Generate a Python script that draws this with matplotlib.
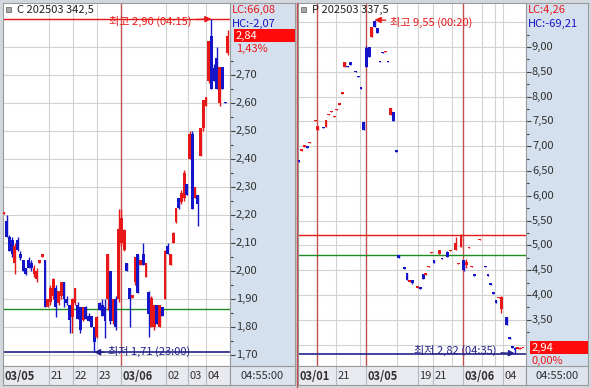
import matplotlib
matplotlib.use("Agg")
import matplotlib.pyplot as plt
from matplotlib.patches import Rectangle
from matplotlib.lines import Line2D

plt.rcParams['font.family'] = ['Noto Sans CJK KR', 'DejaVu Sans']

W, H = 591, 388

RED = '#e81818'
BLUE = '#1414c8'
NAVY = '#22228a'
GRID = '#d2d2d2'
DAYLINE = '#c05050'
GREEN = '#1f8a1f'
PANEL = '#d5e0ee'
BAR_BG = '#e8eaf0'
EDGE = '#9a9a9a'

# ---- C 202503 342.5 (5 min candles) ----
c_open = [2.205, 2.18, 2.12, 2.11, 2.03, 2.11, 2.06, 2.04, 2.01, 2.04,
          2.03, 1.99, 1.97, 2.03, 2.05, 2.04, 1.87, 1.89, 1.91, 1.94,
          1.885, 1.91, 1.96, 1.90, 1.88, 1.835, 1.885, 1.88, 1.87, 1.825,
          1.87, 1.84, 1.84, 1.80, 1.765, 1.885, 1.88, 1.87, 1.90, 2.00,
          1.82, 1.90, 1.90, 2.10, 2.075, 2.03, 1.94, 1.905, 1.96, 2.06,
          2.02, 2.06, 1.98, 1.925, 1.80, 1.80, 1.88, 1.80, 1.87, 1.90,
          2.09, 2.02, 2.10, 2.175, 2.26, 2.245, 2.26, 2.31, 2.40, 2.49,
          2.26, 2.27, 2.41, 2.51, 2.59, 2.68, 2.84, 2.725, 2.76, 2.60,
          2.73, 2.605, 2.78]
c_high = [2.21, 2.20, 2.13, 2.12, 2.10, 2.12, 2.07, 2.04, 2.01, 2.05,
          2.04, 2.02, 2.01, 2.04, 2.06, 2.04, 1.90, 1.95, 1.975, 1.95,
          1.93, 1.96, 1.96, 1.91, 1.88, 1.905, 1.94, 1.89, 1.87, 1.87,
          1.875, 1.85, 1.84, 1.80, 1.84, 1.89, 1.90, 1.90, 2.06, 2.00,
          1.90, 1.91, 2.22, 2.22, 2.15, 2.03, 1.94, 1.915, 2.05, 2.06,
          2.04, 2.10, 2.03, 1.93, 1.91, 1.88, 1.88, 1.88, 1.87, 2.075,
          2.10, 2.06, 2.14, 2.225, 2.26, 2.29, 2.36, 2.31, 2.50, 2.50,
          2.30, 2.27, 2.51, 2.61, 2.62, 2.82, 2.90, 2.74, 2.80, 2.73,
          2.73, 2.605, 2.86]
c_low = [2.205, 2.12, 2.07, 2.05, 1.99, 2.07, 2.04, 2.00, 1.985, 2.01,
         2.00, 1.98, 1.96, 2.03, 2.05, 1.87, 1.87, 1.88, 1.90, 1.835,
         1.88, 1.90, 1.87, 1.88, 1.78, 1.78, 1.88, 1.83, 1.78, 1.82,
         1.83, 1.82, 1.80, 1.71, 1.76, 1.86, 1.84, 1.76, 1.86, 1.81,
         1.81, 1.79, 1.89, 2.09, 2.07, 2.00, 1.80, 1.905, 1.95, 1.92,
         2.02, 2.02, 1.98, 1.765, 1.80, 1.79, 1.81, 1.80, 1.84, 1.90,
         2.06, 2.02, 2.10, 2.17, 2.22, 2.24, 2.25, 2.27, 2.40, 2.22,
         2.26, 2.16, 2.41, 2.50, 2.59, 2.67, 2.65, 2.68, 2.65, 2.59,
         2.65, 2.60, 2.77]
c_close = [2.21, 2.12, 2.07, 2.06, 2.09, 2.075, 2.045, 2.00, 1.99, 2.01,
           2.01, 2.01, 2.00, 2.04, 2.06, 1.87, 1.90, 1.94, 1.97, 1.87,
           1.93, 1.96, 1.90, 1.885, 1.825, 1.90, 1.94, 1.83, 1.79, 1.87,
           1.83, 1.82, 1.80, 1.745, 1.835, 1.86, 1.84, 1.82, 2.06, 1.82,
           1.90, 1.80, 2.15, 2.19, 2.145, 2.00, 1.90, 1.915, 2.05, 1.92,
           2.04, 2.02, 2.03, 1.845, 1.905, 1.88, 1.81, 1.88, 1.84, 2.07,
           2.06, 2.06, 2.135, 2.225, 2.225, 2.28, 2.35, 2.27, 2.49, 2.22,
           2.30, 2.24, 2.51, 2.61, 2.62, 2.82, 2.65, 2.68, 2.65, 2.73,
           2.65, 2.60, 2.84]
c_grid = [16.5, 25.3, 34.1, 59.3, 67.4, 74.0]
c_days = [42.9]
c_date_pos = [-0.3, 16.5, 25.3, 34.1, 42.9, 59.3, 67.4, 74.0]
c_date_lab = ['03/05', '21', '22', '23', '03/06', '02', '03', '04']
c_ticks = [1.70, 1.80, 1.90, 2.00, 2.10, 2.20, 2.30, 2.40, 2.50, 2.60, 2.70]
c_hlines = [(2.90, RED), (1.865, GREEN)]
c_info = ('C 202503 342,5', 'LC:66,08', 'HC:-2,07', '2,84', '1,43%')
c_hi_lab = '최고 2,90 (04:15)'
c_lo_lab = '최저 1,71 (23:00)'

# ---- P 202503 337.5 (5 min slots, thin trading) ----
p_slot = [0, 1, 2, 3, 4, 6, 7, 9, 10, 11,
          12, 13, 14, 15, 16, 17, 18, 19, 21, 22,
          23, 24, 25, 26, 27, 28, 29, 30, 31, 32,
          33, 34, 35, 36, 37, 39, 40, 41, 42, 44,
          45, 46, 47, 48, 49, 50, 52, 53, 55, 56,
          58, 59, 60, 61, 62, 63, 64, 65, 67, 69,
          70, 71, 72, 73, 74, 75, 77, 78, 79, 80,
          81, 82, 83]
p_open = [6.71, 6.91, 6.99, 6.99, 7.07, 7.50, 7.33, 7.38, 7.39, 7.62,
          7.68, 7.58, 7.72, 7.84, 8.06, 8.60, 8.61, 8.70, 8.51, 8.41,
          8.18, 7.49, 8.98, 9.00, 9.20, 9.52, 9.38, 8.71, 8.89, 8.89,
          8.71, 7.62, 7.68, 6.91, 4.80, 4.55, 4.44, 4.27, 4.30, 4.15,
          4.15, 4.43, 4.41, 4.57, 4.84, 4.70, 4.83, 4.74, 4.87, 4.89,
          4.91, 4.63, 4.97, 4.70, 4.60, 4.94, 4.57, 4.41, 5.10, 4.59,
          4.41, 4.23, 4.05, 3.90, 3.94, 3.72, 3.56, 3.16, 2.98, 2.94,
          2.92, 2.91, 2.93]
p_high = [6.71, 6.93, 7.01, 6.99, 7.09, 7.52, 7.40, 7.38, 7.53, 7.64,
          7.70, 7.60, 7.74, 7.86, 8.08, 8.70, 8.61, 8.70, 8.51, 8.41,
          8.18, 7.49, 9.02, 9.00, 9.40, 9.55, 9.38, 8.71, 8.89, 8.91,
          8.71, 7.77, 7.68, 6.91, 4.81, 4.55, 4.44, 4.31, 4.30, 4.17,
          4.15, 4.43, 4.43, 4.59, 4.86, 4.70, 4.91, 4.74, 4.88, 4.91,
          5.17, 4.65, 5.22, 4.70, 4.72, 4.96, 4.59, 4.41, 5.12, 4.59,
          4.41, 4.23, 4.05, 3.90, 3.96, 3.97, 3.56, 3.16, 2.98, 2.95,
          2.94, 2.95, 2.94]
p_low = [6.69, 6.91, 6.99, 6.97, 7.07, 7.50, 7.33, 7.36, 7.39, 7.62,
         7.68, 7.58, 7.72, 7.84, 8.06, 8.60, 8.59, 8.64, 8.49, 8.39,
         8.16, 7.33, 8.60, 8.80, 9.20, 9.40, 9.28, 8.69, 8.87, 8.89,
         8.69, 7.62, 7.50, 6.89, 4.75, 4.53, 4.30, 4.27, 4.22, 4.15,
         4.13, 4.32, 4.41, 4.57, 4.84, 4.64, 4.83, 4.72, 4.77, 4.89,
         4.91, 4.63, 4.97, 4.48, 4.54, 4.94, 4.57, 4.39, 5.10, 4.57,
         4.39, 4.21, 4.02, 3.84, 3.94, 3.64, 3.40, 3.12, 2.94, 2.82,
         2.92, 2.91, 2.93]
p_close = [6.69, 6.93, 7.01, 6.97, 7.09, 7.52, 7.40, 7.36, 7.53, 7.64,
           7.70, 7.60, 7.74, 7.86, 8.08, 8.70, 8.59, 8.64, 8.49, 8.39,
           8.16, 7.33, 8.60, 8.80, 9.40, 9.40, 9.28, 8.69, 8.87, 8.91,
           8.69, 7.77, 7.50, 6.89, 4.75, 4.53, 4.30, 4.31, 4.24, 4.17,
           4.13, 4.32, 4.43, 4.59, 4.86, 4.64, 4.91, 4.72, 4.77, 4.91,
           5.05, 4.65, 5.21, 4.50, 4.66, 4.96, 4.59, 4.39, 5.12, 4.57,
           4.39, 4.21, 4.02, 3.84, 3.96, 3.96, 3.40, 3.12, 2.94, 2.90,
           2.94, 2.94, 2.94]
p_grid = [13.7, 22.6, 36.3, 44.1, 49.6, 56.7, 67.8, 72.6, 75.6]
p_days = [6.7, 24.8, 60.7]
p_date_pos = [-0.3, 13.7, 24.8, 44.1, 49.6, 60.7, 75.6]
p_date_lab = ['03/01', '21', '03/05', '19', '21', '03/06', '04']
p_ticks = [3.50, 4.00, 4.50, 5.00, 5.50, 6.00, 6.50, 7.00, 7.50, 8.00, 8.50, 9.00]
p_hlines = [(5.21, RED), (4.80, GREEN)]
p_info = ('P 202503 337,5', 'LC:4,26', 'HC:-69,21', '2,94', '0,00%')
p_hi_lab = '최고 9,55 (00:20)'
p_lo_lab = '최저 2,82 (04:35)'


def px_axes(fig, x0, y0, x1, y1):
    return fig.add_axes([x0 / W, 1 - y1 / H, (x1 - x0) / W, (y1 - y0) / H])


def fmt(v):
    return f"{v:.2f}".replace('.', ',')


def clean(ax, color):
    ax.set_facecolor(color)
    ax.set_xticks([])
    ax.set_yticks([])
    for s in ax.spines.values():
        s.set_color(EDGE)
        s.set_linewidth(0.8)


def panel(fig, x0, x1, xp, xs, o, h, l, c, xlim, ylim, ystep, grid, days,
          date_pos, date_lab, ticks, hlines, info, hi_lab, lo_lab, hi_off, lo_off):
    top, bot = 3, 366
    ax = px_axes(fig, x0, top, x1, bot)
    clean(ax, 'white')
    ax.set_xlim(*xlim)
    ax.set_ylim(*ylim)
    per_px = (ylim[1] - ylim[0]) / (bot - top)

    # grid
    v = ticks[0] - ystep
    while v < ylim[1]:
        ax.axhline(v, color=GRID, lw=0.8, zorder=1)
        v += ystep
    for g in grid:
        ax.axvline(g, color=GRID, lw=0.8, zorder=1)
    for d in days:
        ax.axvline(d, color=DAYLINE, lw=1, zorder=2)
    for val, col in hlines:
        ax.axhline(val, color=col, lw=1, zorder=2)
    ax.axhline(min(l), color=NAVY, lw=1.2, zorder=2)

    # candles
    for x, oo, hh, ll, cc in zip(xs, o, h, l, c):
        col = RED if cc >= oo else BLUE
        ax.vlines(x, ll, hh, color=col, lw=1, zorder=3)
        ax.bar(x, max(abs(cc - oo), per_px * 1.2), bottom=min(oo, cc),
               width=1.05, color=col, lw=0, zorder=4)

    # high / low markers
    ih = h.index(max(h))
    il = l.index(min(l))
    ax.annotate(hi_lab, xy=(xs[ih], h[ih]), xytext=hi_off, textcoords='offset points',
                ha='right' if hi_off[0] < 0 else 'left', va='center', color=RED, fontsize=8,
                arrowprops=dict(arrowstyle='-|>', color=RED, lw=1, shrinkA=1, shrinkB=0,
                                mutation_scale=9), zorder=6)
    ax.annotate(lo_lab, xy=(xs[il], l[il]), xytext=lo_off, textcoords='offset points',
                ha='right' if lo_off[0] < 0 else 'left', va='center', color=NAVY, fontsize=8,
                arrowprops=dict(arrowstyle='-|>', color=NAVY, lw=1, shrinkA=1, shrinkB=0,
                                mutation_scale=9), zorder=6)

    # price axis panel
    ap = px_axes(fig, x1, top, xp, bot)
    clean(ap, PANEL)
    ap.set_xlim(0, xp - x1)
    ap.set_ylim(*ylim)
    for t in ticks:
        ap.hlines(t, 0, 5, color='#404040', lw=0.8)
        ap.hlines(t + ystep / 2, 0, 3, color='#404040', lw=0.8)
        ap.text(6, t, fmt(t), fontsize=8, color='#303030', va='center', ha='left')
    ap.hlines(ticks[0] - ystep / 2, 0, 3, color='#404040', lw=0.8)
    last = c[-1]
    ap.add_patch(Rectangle((4, last - 6.5 * per_px), xp - x1 - 4, 13 * per_px,
                           color='#ff0a0a', lw=0, zorder=3))
    ap.text(6, last, info[3], fontsize=8, color='white', va='center', zorder=4)
    ap.text(6, last - 13 * per_px, info[4], fontsize=8, color=RED, va='center')
    ap.text(2, ylim[1] - 7 * per_px, info[1], fontsize=8, color=RED, va='center')
    ap.text(2, ylim[1] - 21 * per_px, info[2], fontsize=8, color=BLUE, va='center')

    # header
    fig.add_artist(Rectangle(((x0 + 3) / W, 1 - 12 / H), 5 / W, 5 / H,
                             transform=fig.transFigure, facecolor='#a8a8a8',
                             edgecolor='#707070', lw=0.6))
    fig.text((x0 + 14) / W, 1 - 10 / H, info[0], fontsize=8, color='#202020', va='center')

    # date bar
    ad = px_axes(fig, x0, bot, x1, 385)
    clean(ad, BAR_BG)
    ad.set_xlim(*xlim)
    ad.set_ylim(0, 1)
    for p, lab in zip(date_pos, date_lab):
        if p > xlim[0]:
            ad.axvline(p, color='#b4b8c0', lw=0.8)
        ad.text(p + 0.5, 0.45, lab, fontsize=8, va='center', ha='left', color='#303030',
                fontweight='bold' if '/' in lab else 'normal')
    at = px_axes(fig, x1, bot, xp, 385)
    clean(at, '#dde4ee')
    at.set_xlim(0, 1)
    at.set_ylim(0, 1)
    at.text(0.5, 0.45, '04:55:00', fontsize=8, ha='center', va='center', color='#303030')
    return ax


fig = plt.figure(figsize=(W / 100, H / 100), dpi=100)
fig.patch.set_facecolor('#d3d7de')

c_x = list(range(len(c_open)))
panel(fig, 3, 230, 295, c_x, c_open, c_high, c_low, c_close,
      (-0.37, 82.8), (1.661, 2.957), 0.1, c_grid, c_days, c_date_pos, c_date_lab,
      c_ticks, c_hlines, c_info, c_hi_lab, c_lo_lab, (-14, -1.5), (10, 0.5))

panel(fig, 298, 526, 588, p_slot, p_open, p_high, p_low, p_close,
      (-0.37, 84.1), (2.568, 9.887), 0.5, p_grid, p_days, p_date_pos, p_date_lab,
      p_ticks, p_hlines, p_info, p_hi_lab, p_lo_lab, (11, -2), (-13, 2))

fig.add_artist(Line2D([297 / W, 297 / W], [0, 1 - 3 / H], transform=fig.transFigure,
                      color=DAYLINE, lw=1))

fig.savefig('out.png', dpi=100, facecolor=fig.get_facecolor())
